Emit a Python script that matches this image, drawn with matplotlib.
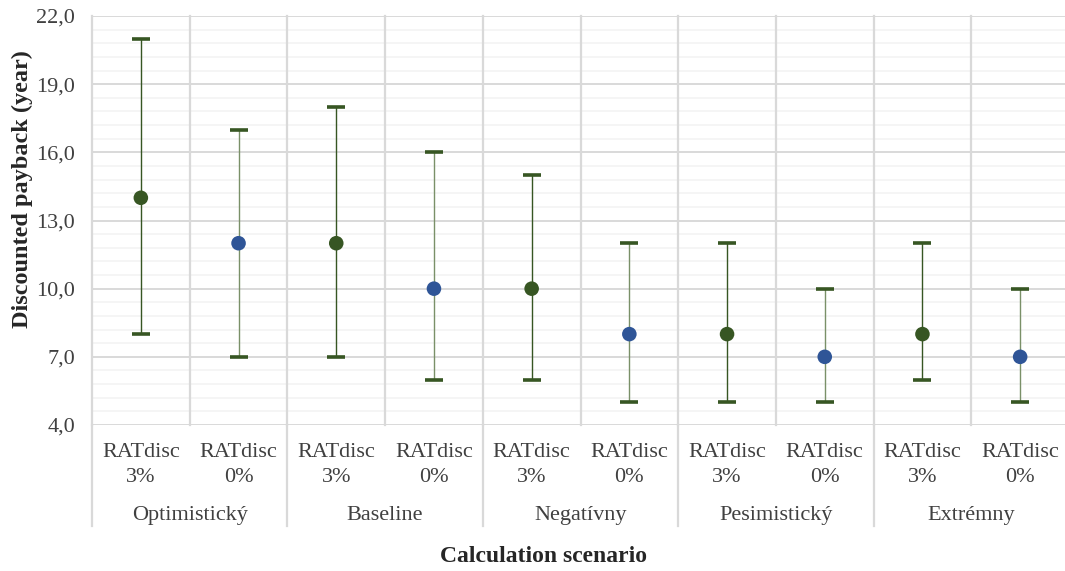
import matplotlib
matplotlib.use("Agg")
import matplotlib.pyplot as plt
from matplotlib.lines import Line2D
import numpy as np

plt.rcParams['font.family'] = ['Liberation Serif', 'DejaVu Serif']

scenarios = ["Optimistický", "Baseline", "Negatívny", "Pesimistický", "Extrémny"]
rates = ["RATdisc\n3%", "RATdisc\n0%"]
mid_values = [14, 12, 12, 10, 10, 8, 8, 7, 8, 7]
low_values = [8, 7, 7, 6, 6, 5, 5, 5, 6, 5]
high_values = [21, 17, 18, 16, 15, 12, 12, 10, 12, 10]
y_ticks = [4, 7, 10, 13, 16, 19, 22]

W, H = 1065, 571
fig = plt.figure(figsize=(W / 100, H / 100), dpi=100)
left, right, top, bottom = 92, 1069, 16, 425
ax = fig.add_axes([left / W, 1 - bottom / H, (right - left) / W, (bottom - top) / H])

n = len(mid_values)
x = np.arange(n) + 0.5
ax.set_xlim(0, n)
ax.set_ylim(4, 22)

grid_major = "#d9d9d9"
grid_minor = "#f3f3f3"
green = "#375623"
blue = "#2f5597"
stem_light = "#7a9068"

for yv in np.arange(4, 22.01, 0.6):
    if not any(abs(yv - t) < 1e-6 for t in y_ticks):
        ax.axhline(yv, color=grid_minor, lw=1.1, zorder=0)
for t in y_ticks:
    ax.axhline(t, color=grid_major, lw=1.4, zorder=0.5)
for i in range(0, n + 1):
    ax.axvline(i, color=grid_major, lw=1.6, zorder=0.5, clip_on=False)

for s in ax.spines.values():
    s.set_visible(False)

ax.set_yticks(y_ticks)
ax.set_yticklabels([f"{t:.1f}".replace(".", ",") for t in y_ticks], fontsize=16, color="#404040")
ax.tick_params(axis="y", length=0, pad=12)
ax.set_xticks([])

is3 = np.arange(n) % 2 == 0
stem_cols = [green if k else stem_light for k in is3]
ax.vlines(x, low_values, high_values, colors=stem_cols, lw=1.0, zorder=2)
ax.plot(x, low_values, ls="none", marker="_", ms=12.5, mew=2.6, color=green, zorder=3)
ax.plot(x, high_values, ls="none", marker="_", ms=12.5, mew=2.6, color=green, zorder=3)
pt_cols = [green if k else blue for k in is3]
ax.scatter(x, mid_values, s=110, c=pt_cols, zorder=4, edgecolors="none")

# category labels under the axis
for i in range(n):
    fig.text((left + (i + 0.5) * (right - left) / n) / W, 1 - 465 / H, rates[i % 2],
             ha="center", va="center", fontsize=16, color="#404040", linespacing=1.4)
for g, name in enumerate(scenarios):
    fig.text((left + (2 * g + 1) * (right - left) / n) / W, 1 - 520 / H, name,
             ha="center", va="baseline", fontsize=16, color="#404040")
# group separators extending below the axis
for g in range(len(scenarios) + 1):
    xp = left + 2 * g * (right - left) / n
    fig.add_artist(Line2D([xp / W, xp / W], [1 - bottom / H, 1 - 526 / H],
                          color=grid_major, lw=1.6, transform=fig.transFigure))

fig.text(544 / W, 1 - 556 / H, "Calculation scenario", ha="center", va="center",
         fontsize=17, fontweight="bold", color="#262626")
fig.text(22 / W, 1 - 189 / H, "Discounted payback (year)", ha="center", va="center",
         rotation=90, fontsize=17.5, fontweight="bold", color="#262626")

fig.savefig("out.png", dpi=100)
